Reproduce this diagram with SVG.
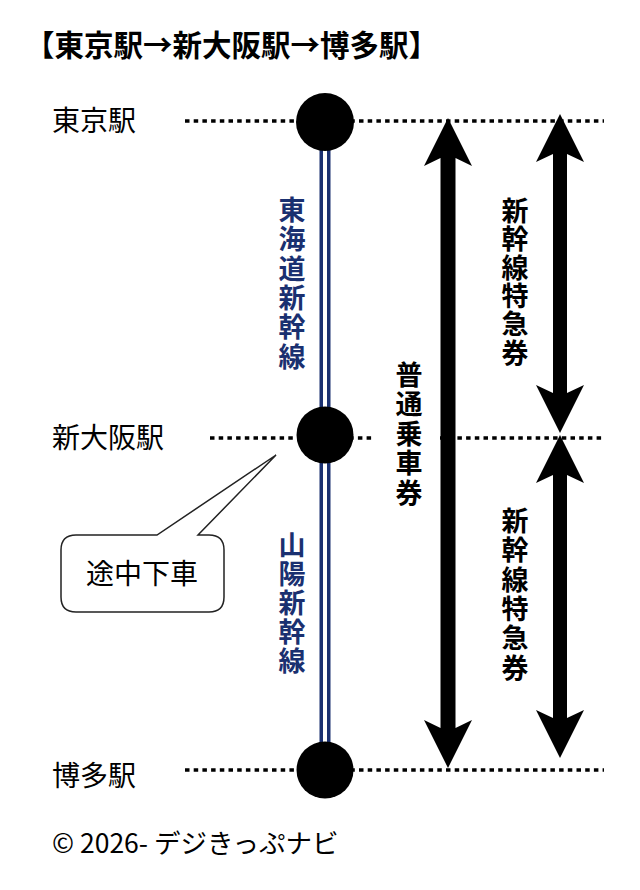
<svg xmlns="http://www.w3.org/2000/svg" width="640" height="890" viewBox="0 0 640 890">
<style>
text{font-family:"Noto Sans CJK JP","Noto Sans",sans-serif;fill:#000}
.st{font-size:28px}
.title{font-size:29.5px;font-weight:bold}
.vl{font-size:27px;font-weight:bold;writing-mode:vertical-rl}
.navy{fill:#1a3070}
.dot{stroke:#000;stroke-width:3.5;stroke-dasharray:4.5 4.2;fill:none}
.arr{fill:#000}
</style>
<rect width="640" height="890" fill="#fff"/>
<text class="title" x="25" y="56">【東京駅→新大阪駅→博多駅】</text>

<g id="connectors">
<line class="dot" x1="185" y1="121" x2="604" y2="121"/>
<line class="dot" x1="210" y1="438" x2="375" y2="438"/>
<line class="dot" x1="440" y1="438" x2="604" y2="438"/>
<line class="dot" x1="185" y1="770" x2="604" y2="770"/>
<line x1="325" y1="122" x2="325" y2="770" stroke="#1a3070" stroke-width="11"/>
<line x1="325" y1="122" x2="325" y2="770" stroke="#fff" stroke-width="4"/>
<polygon class="arr" points="448,118 472,166 455.5,158 455.5,728 472,720 448,768 424,720 440.5,728 440.5,158 424,166"/>
<polygon class="arr" points="560,114 584,162 567,154 567,393 584,385 560,433 536,385 553,393 553,154 536,162"/>
<polygon class="arr" points="560,435 584,483 567,475 567,718 584,710 560,758 536,710 553,718 553,475 536,483"/>
</g>

<g id="tokyo">
<text class="st" x="52" y="131">東京駅</text>
<circle cx="325" cy="122" r="29" fill="#000"/>
</g>
<g id="shinosaka">
<text class="st" x="52" y="448">新大阪駅</text>
<circle cx="325" cy="435" r="28.5" fill="#000"/>
</g>
<g id="hakata">
<text class="st" x="52" y="786">博多駅</text>
<circle cx="325" cy="770" r="28.5" fill="#000"/>
</g>

<g id="tokaido-label">
<text class="vl navy" x="292" y="196" letter-spacing="2.4">東海道新幹線</text>
</g>
<g id="sanyo-label">
<text class="vl navy" x="292" y="531" letter-spacing="2">山陽新幹線</text>
</g>
<g id="futsu-label">
<text class="vl" x="409" y="361" letter-spacing="2.5">普通乗車券</text>
</g>
<g id="tokkyu1-label">
<text class="vl" x="515" y="197" letter-spacing="1.4">新幹線特急券</text>
</g>
<g id="tokkyu2-label">
<text class="vl" x="515" y="507" letter-spacing="2.4">新幹線特急券</text>
</g>

<g id="callout">
<path d="M76,535 L157,535 L276,455 L198,535 L209,535 Q224,535 224,550 L224,597 Q224,612 209,612 L76,612 Q61,612 61,597 L61,550 Q61,535 76,535 Z" fill="#fff" stroke="#222" stroke-width="1.5"/>
<text class="st" x="142" y="584" text-anchor="middle">途中下車</text>
</g>

<text x="52" y="853" font-size="26.5">© 2026- デジきっぷナビ</text>
</svg>
